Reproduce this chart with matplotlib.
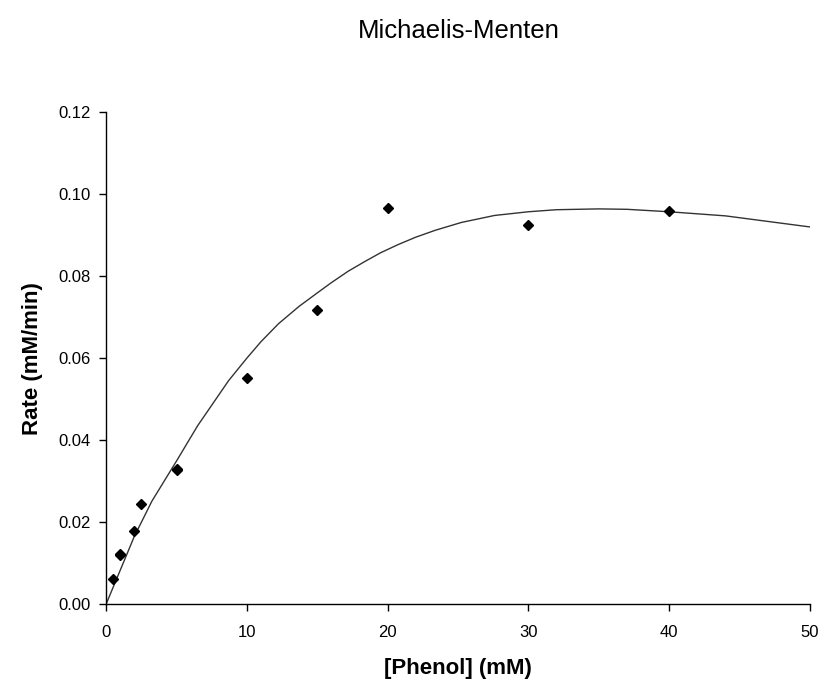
import matplotlib
matplotlib.use("Agg")
import matplotlib.pyplot as plt
from matplotlib.ticker import FormatStrFormatter, MultipleLocator

plt.rcParams['font.family'] = ['Liberation Sans', 'DejaVu Sans']

# Measured data (replicates at some concentrations)
phenol_mM = [0.5, 1, 1, 2, 2.5, 5, 5, 10, 15, 20, 30, 40]
rate = [0.0061, 0.0119, 0.0122, 0.0178, 0.0244, 0.0326, 0.0329, 0.0551, 0.0717, 0.0966, 0.0925, 0.0959]

# Fitted curve
fit_x = [0, 2, 3.25, 5, 6.5, 8.7, 10, 11, 12.25, 13.7, 15, 16, 17.2, 18.4, 19.5, 20.75,
         22, 23.4, 25.25, 27.6, 30, 32, 35, 37, 40, 42, 44, 46, 48, 50]
fit_y = [0, 0.0165, 0.0251, 0.0349, 0.0435, 0.0545, 0.0600, 0.0640, 0.0684, 0.0726,
         0.0759, 0.0784, 0.0812, 0.0836, 0.0857, 0.0877, 0.0895, 0.0912, 0.0931,
         0.0948, 0.0957, 0.0962, 0.0964, 0.0963, 0.0957, 0.0952, 0.0947, 0.0938,
         0.0929, 0.0920]

title = "Michaelis-Menten"
xlabel = "[Phenol] (mM)"
ylabel = "Rate (mM/min)"

fig = plt.figure(figsize=(8.23, 6.86), dpi=100)
ax = fig.add_axes([0.129, 0.1195, 0.855, 0.717])

ax.plot(fit_x, fit_y, color='#333333', lw=1.0, zorder=2)
ax.plot(phenol_mM, rate, linestyle='none', marker='D', markersize=5,
        color='black', zorder=3)

ax.set_xlim(0, 50)
ax.set_ylim(0, 0.12)
ax.xaxis.set_major_locator(MultipleLocator(10))
ax.yaxis.set_major_locator(MultipleLocator(0.02))
ax.yaxis.set_major_formatter(FormatStrFormatter('%.2f'))

for s in ['top', 'right']:
    ax.spines[s].set_visible(False)
for s in ['left', 'bottom']:
    ax.spines[s].set_linewidth(1.0)
    ax.spines[s].set_color('black')

ax.tick_params(direction='out', length=5, width=1, labelsize=12, colors='black')
ax.tick_params(axis='x', pad=10)
ax.tick_params(axis='y', pad=6)

ax.set_xlabel(xlabel, fontsize=16, fontweight='bold', labelpad=13)
ax.set_ylabel(ylabel, fontsize=16, fontweight='bold', labelpad=11)
fig.text(0.557, 0.955, title, ha='center', va='center', fontsize=18.5)

fig.savefig('out.png', dpi=100, facecolor='white')
